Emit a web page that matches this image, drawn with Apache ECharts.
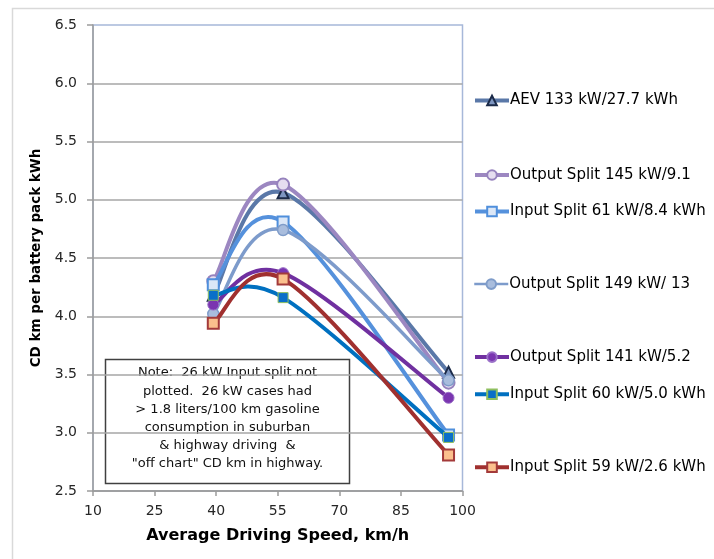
<!DOCTYPE html>
<html>
<head>
<meta charset="utf-8">
<script src="https://cdn.jsdelivr.net/npm/echarts@6/dist/echarts.min.js"></script>
<style>html,body{margin:0;padding:0;background:#fff}#c{width:714px;height:559px}</style>
</head>
<body>
<div id="c"></div>
<script>
const speeds = [39.3, 56.3, 96.6];
const seriesNames = [
  'AEV 133 kW/27.7 kWh',
  'Output Split 145 kW/9.1',
  'Input Split 61 kW/8.4 kWh',
  'Output Split 149 kW/ 13',
  'Output Split 141 kW/5.2',
  'Input Split 60 kW/5.0 kWh',
  'Input Split 59 kW/2.6 kWh'
];
const aev133 = [4.18, 5.06, 3.52];
const out145 = [4.30, 5.13, 3.43];
const in61 = [4.27, 4.81, 2.98];
const out149 = [4.02, 4.74, 3.45];
const out141 = [4.10, 4.37, 3.30];
const in60 = [4.18, 4.16, 2.96];
const in59 = [3.94, 4.32, 2.81];
const yTicks = [2.5, 3.0, 3.5, 4.0, 4.5, 5.0, 5.5, 6.0, 6.5];
const xTicks = [10, 25, 40, 55, 70, 85, 100];
const noteLines = [
  'Note:  26 kW Input split not',
  'plotted.  26 kW cases had',
  '> 1.8 liters/100 km gasoline',
  'consumption in suburban',
  '& highway driving  &',
  '"off chart" CD km in highway.'
];

const valuesList = [aev133, out145, in61, out149, out141, in60, in59];
const styles = [
  {line:'#5a78a8', lw:4, symbol:'triangle', size:11, fill:'#7d95c0', border:'#1b2a48', bw:2},
  {line:'#9c87c1', lw:4, symbol:'circle', size:12, fill:'#e6def0', border:'#9682bd', bw:2},
  {line:'#5591dc', lw:4, symbol:'rect', size:11, fill:'#dbe7f7', border:'#4f8fdc', bw:2},
  {line:'#7d9bcb', lw:3.5, symbol:'circle', size:11, fill:'#a9bddd', border:'#7f9cc9', bw:1.5},
  {line:'#7030a0', lw:4, symbol:'circle', size:11, fill:'#7a35b0', border:'#9a70c8', bw:1},
  {line:'#0070c0', lw:4, symbol:'rect', size:10, fill:'#0a6fc9', border:'#8fbf5f', bw:1},
  {line:'#a0302f', lw:4, symbol:'rect', size:11, fill:'#fbc08d', border:'#a33a3a', bw:2}
];
const legendY = [102, 176.5, 213, 285.6, 358.6, 395.7, 468.8];
const legendLineW = [4, 4, 4, 2.5, 4, 4, 4];

// Excel-like smoothed curve: cubic Bezier segments between consecutive data points
function curveSeries(i) {
  const vals = valuesList[i];
  const n = speeds.length;
  return {
    type: 'custom',
    name: seriesNames[i] + ' curve',
    data: speeds.map((x, j) => [x, vals[j]]),
    silent: true,
    z: 2 + 2 * i,
    renderItem: function (params, api) {
      const k = params.dataIndex;
      if (k >= n - 1) return null;
      const P = j => api.coord([speeds[Math.max(0, Math.min(n - 1, j))], vals[Math.max(0, Math.min(n - 1, j))]]);
      const p0 = P(k - 1), p1 = P(k), p2 = P(k + 1), p3 = P(k + 2);
      const t = 1 / 6;
      return {
        type: 'bezierCurve',
        shape: {
          x1: p1[0], y1: p1[1], x2: p2[0], y2: p2[1],
          cpx1: p1[0] + (p2[0] - p0[0]) * t, cpy1: p1[1] + (p2[1] - p0[1]) * t,
          cpx2: p2[0] - (p3[0] - p1[0]) * t, cpy2: p2[1] - (p3[1] - p1[1]) * t
        },
        style: {stroke: styles[i].line, lineWidth: styles[i].lw, fill: null, lineCap: 'round'}
      };
    }
  };
}

const series = [];
seriesNames.forEach((n, i) => {
  series.push(curveSeries(i));
  series.push({
    name: n,
    type: 'line',
    data: speeds.map((x, j) => [x, valuesList[i][j]]),
    symbol: styles[i].symbol,
    symbolSize: styles[i].size,
    showAllSymbol: true,
    lineStyle: {color: styles[i].line, width: 0, opacity: 0},
    itemStyle: {color: styles[i].fill, borderColor: styles[i].border, borderWidth: styles[i].bw},
    emphasis: {disabled: true},
    z: 3 + 2 * i
  });
});

const legends = seriesNames.map((n, i) => ({
  data: [{name: n, lineStyle: {color: styles[i].line, width: legendLineW[i], opacity: 1}}],
  left: 473,
  top: legendY[i] - 9,
  padding: 0,
  itemWidth: 34,
  itemHeight: 12,
  itemGap: 2,
  selectedMode: false,
  lineStyle: {color: styles[i].line, width: legendLineW[i], opacity: 1},
  textStyle: {fontFamily: 'DejaVu Sans', fontSize: 15, color: '#000', padding: [0, 0, 0, -4]}
}));

const lineH = 18.2;
const noteTexts = noteLines.map((t, k) => ({
  type: 'text',
  style: {text: t, x: 227.5, y: 373 + k * lineH, align: 'center', verticalAlign: 'middle',
          fontFamily: 'DejaVu Sans', fontSize: 13, fill: '#111'}
}));

const chart = echarts.init(document.getElementById('c'), null, {renderer: 'canvas'});
chart.setOption({
  animation: false,
  backgroundColor: '#fff',
  grid: {left: 93, top: 25, right: 251.5, bottom: 68, show: true, borderColor: '#a7b8d9', borderWidth: 1.5, backgroundColor: 'transparent'},
  legend: legends,
  xAxis: {
    type: 'value', min: xTicks[0], max: xTicks[xTicks.length - 1], interval: 15,
    name: 'Average Driving Speed, km/h', nameLocation: 'middle', nameGap: 37,
    nameTextStyle: {fontFamily: 'DejaVu Sans', fontWeight: 'bold', fontSize: 16, color: '#000'},
    axisLine: {show: true, lineStyle: {color: '#9c9c9c', width: 1.5}},
    axisTick: {show: true, inside: false, length: 5, lineStyle: {color: '#9c9c9c', width: 1.5}},
    axisLabel: {margin: 13, fontFamily: 'DejaVu Sans', fontSize: 14, color: '#262626'},
    splitLine: {show: false}
  },
  yAxis: {
    type: 'value', min: yTicks[0], max: yTicks[yTicks.length - 1], interval: 0.5,
    name: 'CD km per battery pack kWh', nameLocation: 'middle', nameGap: 48, nameRotate: 90,
    nameTextStyle: {fontFamily: 'DejaVu Sans', fontWeight: 'bold', fontSize: 13.5, color: '#000'},
    axisLine: {show: true, lineStyle: {color: '#9c9c9c', width: 1.5}},
    axisTick: {show: true, inside: false, length: 6, lineStyle: {color: '#9c9c9c', width: 1.5}},
    axisLabel: {margin: 16, fontFamily: 'DejaVu Sans', fontSize: 14, color: '#262626', formatter: v => v.toFixed(1)},
    splitLine: {show: true, showMaxLine: false, lineStyle: {color: '#a6a6a6', width: 1.5}}
  },
  graphic: [
    {type: 'rect', shape: {x: 12.5, y: 8.5, width: 720, height: 570}, style: {fill: 'none', stroke: '#d9d9d9', lineWidth: 1.5}, silent: true},
    {type: 'group', z: 50, children: [
      {type: 'rect', shape: {x: 105.5, y: 359.5, width: 244, height: 124}, style: {fill: '#fff', stroke: '#404040', lineWidth: 1.5}}
    ].concat(noteTexts)}
  ],
  series: series
});
</script>
</body>
</html>
